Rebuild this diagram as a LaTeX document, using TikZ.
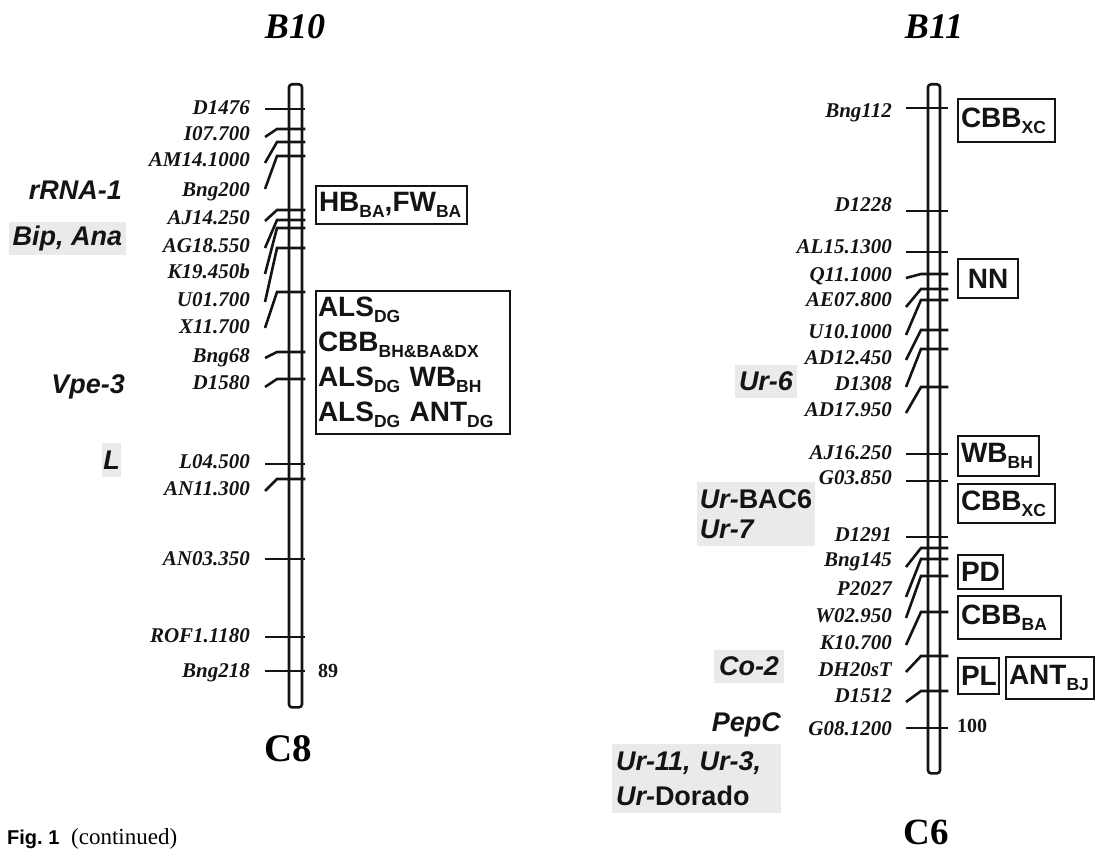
\documentclass[tikz,border=0pt]{standalone}
\usepackage{fontspec}
\setmainfont{Liberation Serif}
\setsansfont{Liberation Sans}
\usetikzlibrary{positioning}
\definecolor{ink}{RGB}{20,20,20}
\definecolor{shade}{RGB}{234,234,234}
\newcommand\sbs[1]{\raisebox{-6pt}{\fontsize{17.5}{17.5}\selectfont #1}}

\begin{document}
\begin{tikzpicture}[x=1pt,y=-1pt,
  mk/.style={anchor=base east,inner sep=0pt,text=ink,font=\fontsize{21}{21}\selectfont\bfseries\itshape},
  tick/.style={line width=2.6pt,draw=ink},
  bar/.style={draw=ink,line width=2.6pt,rounded corners=3pt,inner sep=0pt},
  trait/.style={draw=ink,line width=2pt,inner xsep=3pt,inner ysep=0pt,align=left,anchor=north west,text=ink,font=\fontsize{28}{35}\selectfont\sffamily\bfseries},
  locus/.style={inner sep=0pt,text=ink,font=\fontsize{27}{30}\selectfont\sffamily\bfseries\itshape},
  hl/.style={locus,fill=shade},
  cmnum/.style={text=ink,font=\fontsize{20}{20}\selectfont\bfseries}]
  \useasboundingbox (0,0) rectangle (1095,850);
  % chromosomes
  \node[font=\fontsize{36}{36}\selectfont\bfseries\itshape] (tB10) at (295,27) {B10};
  \node[font=\fontsize{36}{36}\selectfont\bfseries\itshape] (tB11) at (934,27) {B11};
  \node[bar,minimum width=13pt,minimum height=623pt,anchor=north] (chrC8) at (295.5,83) {};
  \node[bar,minimum width=12pt,minimum height=689pt,anchor=north] (chrC6) at (934,83) {};
  \node[font=\fontsize{39}{39}\selectfont\bfseries] (tC8) at (288,749) {C8};
  \node[font=\fontsize{37}{37}\selectfont\bfseries] (tC6) at (926,832) {C6};
  % markers C8
  \foreach \nm/\ly/\ey/\ty [count=\i] in {D1476/108/109/109,I07.700/134/137/129,AM14.1000/160/163/142,
    Bng200/190/189/156,AJ14.250/218/221/210,AG18.550/246/248/220,K19.450b/272/274/228,U01.700/300/302/248,
    X11.700/327/328/292,Bng68/355/358/352,D1580/382/387/379,L04.500/461/464/464,AN11.300/488/491/479,
    AN03.350/558/559/559,ROF1.1180/635/637/637,Bng218/670/671/671}{
    \node[mk] (a\i) at (250,\ly+7) {\nm};
    \coordinate (sa\i) at (265,\ey);
    \coordinate (ka\i) at (277,\ty);
    \draw[tick] (sa\i) -- (ka\i) -- ([xshift=2pt]ka\i -| chrC8.east);
  }
  % markers C6
  \foreach \nm/\ly/\ey/\ty [count=\i] in {Bng112/111/108/108,D1228/205/211/211,AL15.1300/247/252/252,
    Q11.1000/275/278/274,AE07.800/300/307/289,U10.1000/331/335/300,AD12.450/357/360/330,D1308/383/387/349,
    AD17.950/409/413/387,AJ16.250/452/454/454,G03.850/477/481/481,D1291/534/537/537,Bng145/559/567/548,
    P2027/588/597/559,W02.950/615/618/576,K10.700/642/645/612,DH20sT/669/672/656,D1512/695/702/691,
    G08.1200/728/728/728}{
    \node[mk] (b\i) at (892,\ly+7) {\nm};
    \coordinate (sb\i) at (906,\ey);
    \coordinate (kb\i) at (921,\ty);
    \draw[tick] (sb\i) -- (kb\i) -- ([xshift=7pt]kb\i -| chrC6.east);
  }
  \node[cmnum] (d89) at (328,671) {89};
  \node[cmnum] (d100) at (972,726) {100};
  % traits
  \node[trait,text width=145pt,minimum height=38pt] (hb) at (315,185) {HB\sbs{BA},FW\sbs{BA}};
  \node[trait,inner xsep=2pt,text width=190pt,minimum height=143pt] (als) at (315,290)
    {ALS\sbs{DG}\\CBB\sbs{BH\&BA\&DX}\\ALS\sbs{DG} WB\sbs{BH}\\ALS\sbs{DG} ANT\sbs{DG}};
  \node[trait,text width=91pt,minimum height=43pt] (cbb1) at (957,98) {CBB\sbs{XC}};
  \node[trait,align=center,text width=54pt,minimum height=39pt] (nn) at (957,258) {NN};
  \node[trait,text width=75pt,minimum height=40pt] (wb) at (957,435) {WB\sbs{BH}};
  \node[trait,text width=91pt,minimum height=39pt] (cbb2) at (957,483) {CBB\sbs{XC}};
  \node[trait,text width=39pt,minimum height=34pt] (pd) at (957,554) {PD};
  \node[trait,text width=97pt,minimum height=43pt] (cbb3) at (957,595) {CBB\sbs{BA}};
  \node[trait,text width=35pt,minimum height=36pt] (pl) at (957,657) {PL};
  \node[trait,text width=82pt,minimum height=42pt] (ant) at (1005,656) {ANT\sbs{BJ}};
  % loci
  \node[locus,anchor=east] (rrna) at (122,190) {rRNA-1};
  \node[hl,minimum width=117pt,minimum height=33pt] (bip) at (67.5,238.5) {Bip, Ana};
  \node[locus,anchor=east] (vpe) at (125,387) {Vpe-3};
  \node[hl,minimum width=19pt,minimum height=34pt] (locL) at (111.5,460) {L};
  \node[hl,minimum width=62pt,minimum height=33pt] (ur6) at (766,381.5) {Ur-6};
  \node[hl,align=left,minimum width=118pt,minimum height=64pt] (ur7) at (756,514) {Ur-{\upshape BAC6}\\Ur-7};
  \node[hl,minimum width=70pt,minimum height=33pt] (co2) at (749,666.5) {Co-2};
  \node[locus,anchor=east] (pepc) at (781,725) {PepC};
  \node[hl,align=left,inner xsep=4pt,text width=161pt,minimum height=69pt] (ur11) at (696.5,778.5) {Ur-11, Ur-3,\\[5pt]Ur-{\upshape Dorado}};
  \node[anchor=base west,inner sep=0pt,font=\fontsize{23}{23}\selectfont] (fig) at (7,844)
    {{\fontsize{20}{20}\selectfont\sffamily\bfseries Fig.~1}\hspace{6pt} (continued)};
\end{tikzpicture}
\end{document}
